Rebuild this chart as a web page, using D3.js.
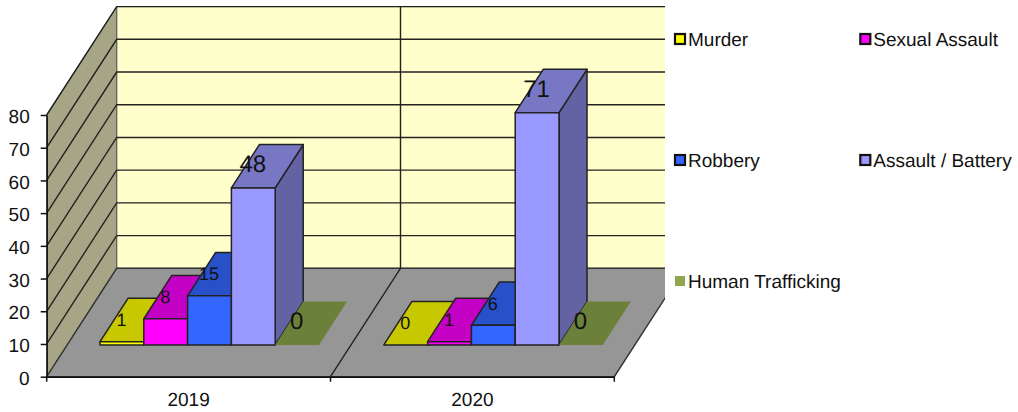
<!DOCTYPE html>
<html>
<head>
<meta charset="utf-8">
<style>
  html, body { margin: 0; padding: 0; background: #fff; }
  svg { display: block; }
  text { font-family: "Liberation Sans", Arial, sans-serif; fill: #111; text-rendering: geometricPrecision; }
</style>
<script src="https://cdn.jsdelivr.net/npm/d3@7"></script>
</head>
<body>
<div id="chart"></div>
<script>
const years = ["2019", "2020"];
const seriesNames = ["Murder", "Sexual Assault", "Robbery", "Assault / Battery", "Human Trafficking"];
const murder = [1, 0];
const sexualAssault = [8, 1];
const robbery = [15, 6];
const assaultBattery = [48, 71];
const humanTrafficking = [0, 0];
const allSeries = [murder, sexualAssault, robbery, assaultBattery, humanTrafficking];
const yTicks = [0, 10, 20, 30, 40, 50, 60, 70, 80];

// front, top and side shades of each series
const frontColors = ["#ffff00", "#ff00ff", "#3366ff", "#9999ff", "#8fa64f"];
const topColors = ["#c8c800", "#c400c4", "#2850c8", "#7777c4", "#6b8039"];
const sideColors = ["#999900", "#990099", "#1f3d99", "#6363a3", "#6b8039"];
// the small labels and the big ones differ in the source picture
const labelSizes = [18, 18, 18, 24, 24];
const labelLift = [22, 22, 22, 24, 24];

const width = 1018, height = 412;
const x0 = 46.7, y0 = 376.7;
const depthX = 70, depthY = 108.4;
const fontSize = 19;

const svg = d3.select("#chart").append("svg")
    .attr("width", width)
    .attr("height", height);

const xScale = d3.scaleBand().domain(years).range([x0, 614.3]);
const seriesScale = d3.scaleBand().domain(d3.range(5)).range([32.8, 251.8]);
const yScale = d3.scaleLinear().domain([0, 80]).range([y0, 115]);
const depthScaleX = d3.scaleLinear().domain([0, 1]).range([0, depthX]);
const depthScaleY = d3.scaleLinear().domain([0, 1]).range([0, -depthY]);

const barFront = 0.293, barBack = 0.693;

// floor position + depth + value to screen
function project(x, depth, value) {
    return [x + depthScaleX(depth), yScale(value) + depthScaleY(depth)];
}
function poly(points) {
    return points.map(p => p.join(",")).join(" ");
}

const yMax = 80;
const xEnd = xScale.range()[1];
const lineColor = "#222";

svg.append("clipPath").attr("id", "plot-clip")
    .append("rect").attr("x", 0).attr("y", 0).attr("width", 665).attr("height", height);

const plot = svg.append("g").attr("clip-path", "url(#plot-clip)");

// back wall
plot.append("polygon")
    .attr("points", poly([project(x0, 1, 0), project(x0, 1, yMax), project(xEnd, 1, yMax), project(xEnd, 1, 0)]))
    .attr("fill", "#ffffcc")
    .attr("stroke", "#777")
    .attr("stroke-width", 1);

// side wall
plot.append("polygon")
    .attr("points", poly([project(x0, 0, 0), project(x0, 0, yMax), project(x0, 1, yMax), project(x0, 1, 0)]))
    .attr("fill", "#a6a686")
    .attr("stroke", "#555")
    .attr("stroke-width", 1);

// floor
plot.append("polygon")
    .attr("points", poly([project(x0, 0, 0), project(x0, 1, 0), project(xEnd, 1, 0), project(xEnd, 0, 0)]))
    .attr("fill", "#969696")
    .attr("stroke", "#333")
    .attr("stroke-width", 1.4);

// gridlines round both walls
yTicks.filter(d => d > 0).forEach(d => {
    plot.append("polyline")
        .attr("points", poly([project(x0, 0, d), project(x0, 1, d), project(xEnd, 1, d)]))
        .attr("fill", "none")
        .attr("stroke", lineColor)
        .attr("stroke-width", 1.4);
});

// divider between the two years
const xMid = xScale("2020");
plot.append("polyline")
    .attr("points", poly([project(xMid, 0, 0), project(xMid, 1, 0), project(xMid, 1, yMax)]))
    .attr("fill", "none")
    .attr("stroke", lineColor)
    .attr("stroke-width", 1.4);

// bars, left to right so each one covers the side of the previous
years.forEach((year, yi) => {
    allSeries.forEach((values, si) => {
        const v = values[yi];
        const left = xScale(year) + seriesScale(si);
        const right = left + seriesScale.bandwidth();
        const g = plot.append("g")
            .attr("stroke", si === 4 ? "none" : lineColor)
            .attr("stroke-width", 1.5)
            .attr("stroke-linejoin", "round");

        g.append("polygon")
            .attr("points", poly([project(right, barFront, 0), project(right, barBack, 0), project(right, barBack, v), project(right, barFront, v)]))
            .attr("fill", sideColors[si]);
        g.append("polygon")
            .attr("points", poly([project(left, barFront, v), project(right, barFront, v), project(right, barBack, v), project(left, barBack, v)]))
            .attr("fill", topColors[si]);
        if (v > 0) {
            g.append("polygon")
                .attr("points", poly([project(left, barFront, 0), project(right, barFront, 0), project(right, barFront, v), project(left, barFront, v)]))
                .attr("fill", frontColors[si]);
        }
    });
});

// data labels go on top of everything
years.forEach((year, yi) => {
    allSeries.forEach((values, si) => {
        const v = values[yi];
        const mid = xScale(year) + seriesScale(si) + seriesScale.bandwidth() / 2;
        const p = project(mid, barFront, v);
        svg.append("text")
            .attr("x", p[0] - 0.5)
            .attr("y", p[1] - labelLift[si])
            .attr("dy", "0.35em")
            .attr("text-anchor", "middle")
            .attr("font-size", labelSizes[si])
            .text(v);
    });
});

// axes
const yAxis = d3.axisLeft(yScale).tickValues(yTicks).tickSize(6).tickPadding(11).tickSizeOuter(0);
const yG = svg.append("g")
    .attr("transform", `translate(${x0},0)`)
    .call(yAxis);
yG.selectAll("text").attr("font-size", fontSize).attr("font-family", null).attr("dy", "0.4em").style("fill", "#111");
yG.selectAll("line, path").attr("stroke", "#111").attr("stroke-width", 1.5);

const xAxis = d3.axisBottom(xScale).tickSize(0).tickPadding(15);
const xG = svg.append("g")
    .attr("transform", `translate(0,${y0})`)
    .call(xAxis);
xG.selectAll("text").attr("font-size", fontSize).attr("font-family", null).attr("dy", "0.76em").style("fill", "#111");
xG.select(".domain").attr("stroke", "#111").attr("stroke-width", 1.5);

xG.selectAll(".sep")
    .data([...years.map(y => xScale(y)), xEnd])
    .join("line")
    .attr("class", "sep")
    .attr("x1", d => d)
    .attr("x2", d => d)
    .attr("y1", 0)
    .attr("y2", 5)
    .attr("stroke", "#111")
    .attr("stroke-width", 1.5);

// legend
const legendCol = d3.scalePoint().domain([0, 1]).range([674, 859.3]);
const legendRow = d3.scalePoint().domain([0, 1, 2]).range([39, 281]);

const legend = svg.append("g").selectAll("g")
    .data(seriesNames)
    .join("g")
    .attr("transform", (d, i) => `translate(${legendCol(i % 2)},${legendRow(Math.floor(i / 2))})`);

legend.append("rect")
    .attr("x", 1)
    .attr("y", -5)
    .attr("width", 10)
    .attr("height", 10)
    .attr("fill", (d, i) => frontColors[i])
    .attr("stroke", (d, i) => i === 4 ? "none" : "#111")
    .attr("stroke-width", 2.2);

legend.append("text")
    .attr("x", 14)
    .attr("dy", "0.35em")
    .attr("font-size", fontSize)
    .text(d => d);
</script>
</body>
</html>
